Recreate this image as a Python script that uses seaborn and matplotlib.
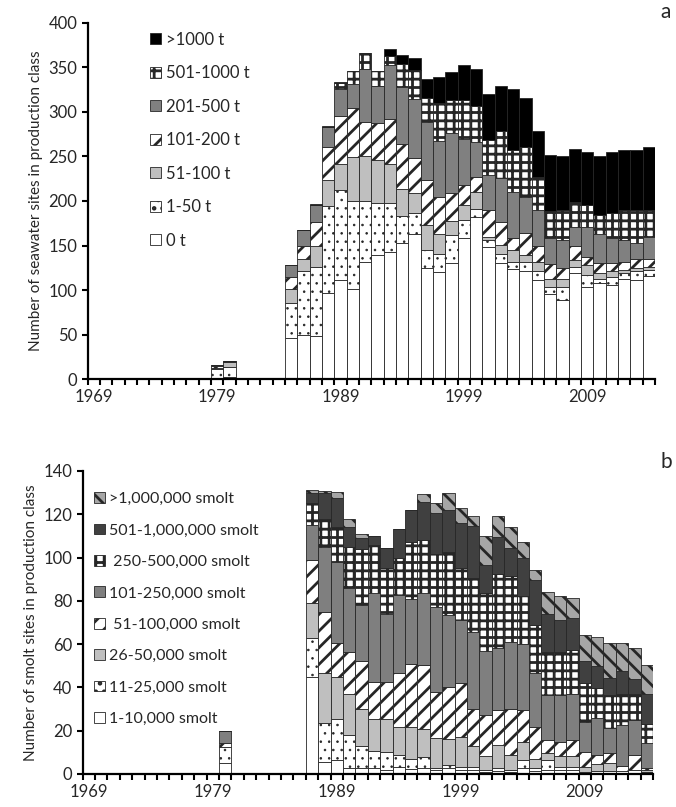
import numpy as np
import pandas as pd
import seaborn as sns
import matplotlib.pyplot as plt
from matplotlib.patches import Patch

sns.set_theme(style='ticks')
plt.rcParams['font.family'] = ['Lato', 'DejaVu Sans']
plt.rcParams['hatch.linewidth'] = 2.0

## panel a: seawater sites per production class (tonnes)
sea_years = [1979, 1980] + list(range(1985, 2015))
sea_classes = ['>1000 t', '501-1000 t', '201-500 t', '101-200 t', '51-100 t', '1-50 t', '0 t']
sea_gt1000 = [0, 0, 0, 0, 1, 1, 2, 0, 0, 0, 7, 10, 13, 22, 29, 32, 39, 42, 52, 51, 69, 56, 52,
              63, 60, 59, 60, 66, 69, 67, 67, 70]
sea_501_1000 = [0, 0, 0, 0, 0, 0, 6, 15, 18, 17, 10, 26, 33, 26, 43, 37, 43, 40, 39, 52, 47, 55, 37,
                30, 34, 28, 24, 21, 28, 34, 37, 30]
sea_201_500 = [1, 2, 13, 18, 20, 23, 31, 27, 59, 42, 61, 64, 66, 66, 62, 67, 52, 39, 39, 50, 52, 41, 41,
               30, 31, 22, 34, 33, 28, 24, 18, 25]
sea_101_200 = [2, 0, 14, 14, 27, 37, 53, 55, 38, 41, 50, 50, 39, 50, 42, 31, 22, 17, 30, 25, 13, 25, 17,
               17, 12, 15, 9, 11, 9, 9, 10, 9]
sea_51_100 = [2, 5, 15, 14, 23, 29, 30, 49, 51, 48, 44, 31, 23, 28, 22, 16, 17, 19, 4, 10, 13, 7, 11,
              8, 9, 8, 11, 6, 6, 4, 4, 3]
sea_1_50 = [9, 11, 40, 71, 77, 97, 101, 99, 68, 59, 55, 30, 23, 20, 21, 32, 21, 9, 8, 11, 8, 10, 10,
            8, 15, 7, 14, 5, 9, 6, 10, 7]
sea_0 = [2, 3, 46, 50, 49, 97, 111, 101, 132, 139, 143, 153, 163, 125, 120, 130, 158, 182, 148, 130,
         124, 122, 111, 96, 89, 119, 103, 108, 106, 113, 111, 116]
sea_series = [sea_gt1000, sea_501_1000, sea_201_500, sea_101_200, sea_51_100, sea_1_50, sea_0]
sea_styles = [('#000000', ''), ('#ffffff', '++'), ('#808080', ''), ('#ffffff', '//'),
              ('#bfbfbf', ''), ('#ffffff', '..'), ('#ffffff', '')]

## panel b: smolt sites per production class
smolt_years = [1980] + list(range(1987, 2015))
smolt_classes = ['>1,000,000 smolt', '501-1,000,000 smolt', ' 250-500,000 smolt', '101-250,000 smolt',
                 ' 51-100,000 smolt', '26-50,000 smolt', '11-25,000 smolt', '1-10,000 smolt']
sm_gt1m = [0, 1, 1, 3, 4, 2, 0, 0, 0, 0, 3.6, 4.5, 8, 7, 4.7, 13.4, 10, 10, 7.7, 4.6,
           10.3, 11, 9.2, 12.2, 13.5, 16.5, 12.6, 14.3, 13.4]
sm_501_1m = [0, 5, 12, 13.4, 9, 5, 4.2, 9.3, 13, 14.6, 17.8, 19, 19.5, 21, 24, 13, 17, 13, 17.4, 21,
             17.5, 14.7, 14.7, 10, 10.4, 7.7, 10.8, 6.7, 13.9]
sm_250_500k = [0, 10, 12.7, 16, 19.2, 26, 22.3, 21, 17.3, 26.4, 24.5, 24.5, 29, 24, 24.6, 26.5, 34, 30.5,
               22.3, 22, 20, 20, 20.3, 17.8, 13.9, 15.4, 14.4, 12, 8.9]
sm_101_250k = [5.5, 16, 30, 37.3, 29.3, 26, 40.8, 31.3, 36.2, 30, 33.1, 39, 33.5, 29, 35.8, 29.7, 29, 31,
               30.4, 25, 20.8, 21.5, 21.3, 13.9, 16.9, 11.6, 18.9, 16.2, 11.2]
sm_51_100k = [2, 20, 28.2, 15.7, 19.5, 22, 17.4, 17.4, 24.6, 29.1, 29.4, 21.5, 24, 25, 17, 19, 16, 21,
              14.6, 15, 6.2, 6.7, 7.4, 6.9, 4.2, 4.6, 2.2, 7, 1.2]
sm_26_50k = [0, 16, 23.1, 19.7, 19, 17, 14.5, 15, 13.1, 15.1, 13, 13.5, 12, 13.6, 9.6, 6.3, 10.8, 7,
             8.5, 3.8, 3, 4.9, 4.9, 2.4, 3.1, 3.4, 0, 0, 0.8]
sm_11_25k = [7.5, 18, 18, 18.8, 15, 10.4, 8.2, 8.5, 5.4, 4.6, 5.4, 1, 1, 1.4, 1.4, 1, 1.3, 0.8,
             3.5, 1.5, 4.7, 1.4, 1.4, 0, 0, 0, 0, 0, 0]
sm_1_10k = [5, 45, 5.7, 6.5, 3, 2.6, 2.6, 1.8, 3.4, 2.2, 2.6, 2, 3, 2, 2, 1, 1.3, 1, 3, 1.5,
            1.8, 2, 2, 1, 1.5, 1.5, 1.5, 1.8, 1]
smolt_series = [sm_gt1m, sm_501_1m, sm_250_500k, sm_101_250k, sm_51_100k, sm_26_50k, sm_11_25k, sm_1_10k]
smolt_styles = [('#a6a6a6', '\\\\'), ('#404040', ''), ('#ffffff', '++'), ('#7f7f7f', ''),
                ('#ffffff', '//'), ('#bfbfbf', ''), ('#ffffff', '..'), ('#ffffff', '')]


def stacked(ax, years, classes, series, styles):
    df = pd.DataFrame([(y, c, v) for c, vals in zip(classes, series) for y, v in zip(years, vals)],
                      columns=['year', 'cls', 'n'])
    sns.histplot(data=df, x='year', weights='n', hue='cls', hue_order=classes, multiple='stack',
                 discrete=True, shrink=1, palette=[s[0] for s in styles], alpha=1,
                 edgecolor='#262626', linewidth=0.6, legend=False, ax=ax)
    # match each stacked layer back to its class by its total, then style it
    sums = [sum(v) for v in series]
    for cont in ax.containers:
        tot = sum(p.get_height() for p in cont)
        i = int(np.argmin([abs(tot - s) for s in sums]))
        for p in cont:
            p.set_facecolor(styles[i][0])
            p.set_hatch(styles[i][1])
            if styles[i][1] == '..' and hasattr(p, 'set_hatch_linewidth'):
                p.set_hatch_linewidth(0.6)
    handles = []
    for c, (fc, h) in zip(classes, styles):
        hp = Patch(facecolor=fc, hatch=h, edgecolor='#262626', linewidth=0.6, label=c)
        if h == '..' and hasattr(hp, 'set_hatch_linewidth'):
            hp.set_hatch_linewidth(0.6)
        handles.append(hp)
    ax.set_xlim(1968.5, 2014.5)
    ax.set_xticks([1969, 1979, 1989, 1999, 2009])
    ax.set_xticks(np.arange(1968.5, 2015, 1), minor=True)
    ax.tick_params(axis='x', which='major', length=0, labelsize=12, pad=7)
    ax.tick_params(axis='x', which='minor', length=4, width=1.5, direction='out', color='black')
    ax.tick_params(axis='y', length=4, width=1.5, labelsize=12, color='black')
    for s in ['left', 'bottom']:
        ax.spines[s].set_linewidth(1.6)
        ax.spines[s].set_color('black')
    sns.despine(ax=ax)
    ax.set_xlabel('')
    return handles


fig = plt.figure(figsize=(6.76, 8.07), dpi=100)
ax1 = fig.add_axes([0.1297, 0.530, 0.839, 0.4419])
ax2 = fig.add_axes([0.1223, 0.0409, 0.8436, 0.3755])

h1 = stacked(ax1, sea_years, sea_classes, sea_series, sea_styles)
ax1.set_ylim(0, 400)
ax1.set_yticks(range(0, 401, 50))
ax1.set_ylabel('Number of seawater sites in production class', fontsize=11)
ax1.legend(handles=h1, loc='upper left', bbox_to_anchor=(0.11, 0.975), frameon=False,
           fontsize=12, labelspacing=1.05, handlelength=0.66, handleheight=0.66,
           handletextpad=0.3, borderpad=0, borderaxespad=0)

h2 = stacked(ax2, smolt_years, smolt_classes, smolt_series, smolt_styles)
ax2.set_ylim(0, 140)
ax2.set_yticks(range(0, 141, 20))
ax2.set_ylabel('Number of smolt sites in production class', fontsize=11)
ax2.legend(handles=h2, loc='upper left', bbox_to_anchor=(0.02, 0.93), frameon=False,
           fontsize=11.5, labelspacing=1.09, handlelength=0.66, handleheight=0.66,
           handletextpad=0.3, borderpad=0, borderaxespad=0)

fig.text(0.985, 0.985, 'a', fontsize=15, ha='center', va='center')
fig.text(0.985, 0.4275, 'b', fontsize=15, ha='center', va='center')

plt.savefig('out.png', dpi=100)
